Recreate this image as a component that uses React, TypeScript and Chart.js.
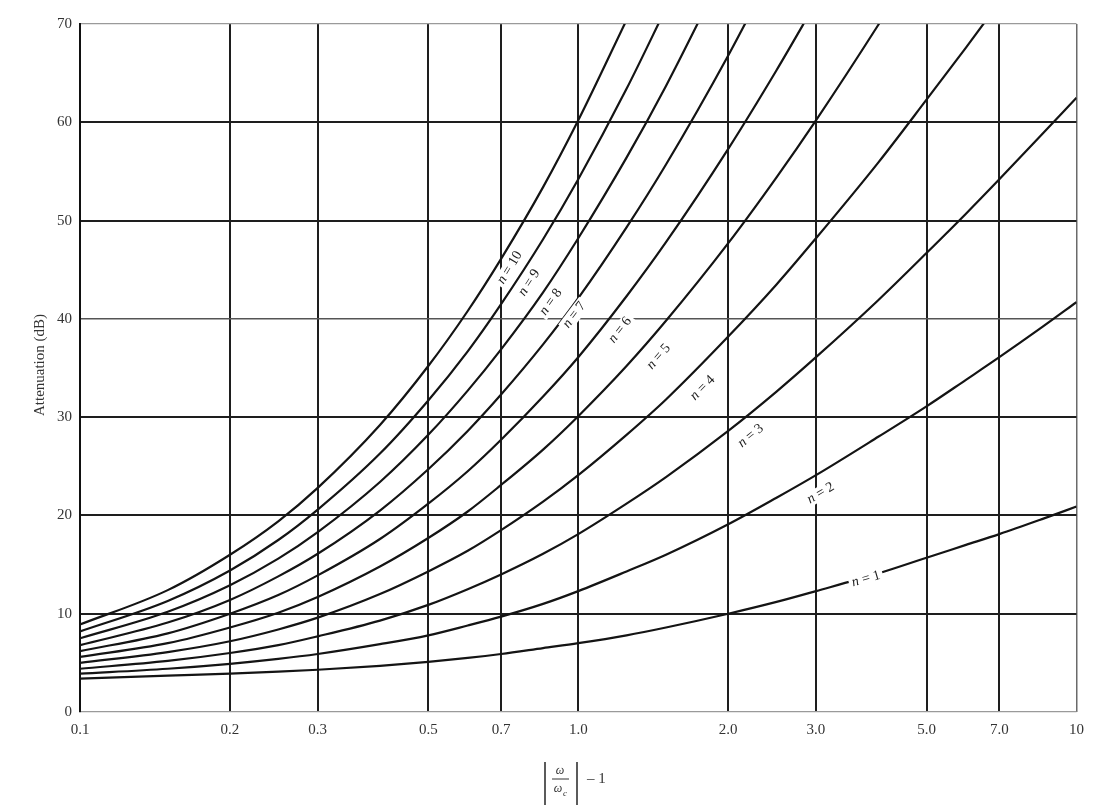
import React, { useEffect, useRef } from 'react';
import { Chart, registerables } from 'chart.js';

Chart.register(...registerables);

// |w/wc| - 1 sample positions
const xValues = [0.1, 0.15, 0.2, 0.25, 0.3, 0.4, 0.5, 0.6, 0.7, 0.85, 1.0, 1.25, 1.5, 2.0, 2.5, 3.0, 4.0, 5.0, 6.0, 7.0, 8.5, 10];

// Attenuation (dB) for each order n
const n1 = [3.4, 3.7, 3.9, 4.1, 4.3, 4.7, 5.1, 5.5, 5.9, 6.5, 7.0, 7.8, 8.6, 10.0, 11.2, 12.3, 14.1, 15.7, 17.0, 18.1, 19.6, 20.9];
const n2 = [3.9, 4.4, 4.9, 5.4, 5.9, 6.9, 7.8, 8.8, 9.7, 11.0, 12.3, 14.3, 16.0, 19.1, 21.8, 24.1, 28.0, 31.1, 33.8, 36.1, 39.1, 41.7];
const n3 = [4.4, 5.2, 6.0, 6.8, 7.7, 9.3, 10.9, 12.5, 14.0, 16.1, 18.1, 21.2, 23.9, 28.6, 32.6, 36.1, 41.9, 46.7, 50.7, 54.2, 58.7, 62.5];
const n4 = [5.0, 6.1, 7.2, 8.4, 9.6, 12.0, 14.3, 16.4, 18.5, 21.4, 24.1, 28.2, 31.8, 38.2, 43.5, 48.2, 55.9, 62.3, 67.6, 72.2];
const n5 = [5.6, 7.0, 8.6, 10.1, 11.7, 14.8, 17.7, 20.4, 23.1, 26.7, 30.1, 35.2, 39.8, 47.7, 54.4, 60.2, 69.9, 77.8];
const n6 = [6.2, 8.0, 10.0, 11.9, 13.9, 17.6, 21.2, 24.5, 27.7, 32.1, 36.1, 42.3, 47.8, 57.3, 65.3, 72.2];
const n7 = [6.8, 9.1, 11.4, 13.8, 16.1, 20.5, 24.7, 28.6, 32.3, 37.4, 42.1, 49.3, 55.7, 66.8, 76.2];
const n8 = [7.5, 10.2, 12.9, 15.6, 18.3, 23.4, 28.2, 32.7, 36.9, 42.7, 48.2, 56.4, 63.7, 76.3];
const n9 = [8.2, 11.3, 14.4, 17.5, 20.6, 26.3, 31.7, 36.7, 41.5, 48.1, 54.2, 63.4, 71.6];
const n10 = [8.9, 12.4, 16.0, 19.4, 22.8, 29.2, 35.2, 40.8, 46.1, 53.4, 60.2, 70.4];

const series = [n1, n2, n3, n4, n5, n6, n7, n8, n9, n10];
const seriesNames = ['1', '2', '3', '4', '5', '6', '7', '8', '9', '10'];
// x position (data units) along each curve where its "n = .." label sits
const labelAnchorX = [3.77, 2.94, 2.106, 1.675, 1.362, 1.145, 0.957, 0.842, 0.761, 0.695];

const xTickValues = [0.1, 0.2, 0.3, 0.5, 0.7, 1, 2, 3, 5, 7, 10];
const xTickLabels = ['0.1', '0.2', '0.3', '0.5', '0.7', '1.0', '2.0', '3.0', '5.0', '7.0', '10'];
const yTitle = 'Attenuation (dB)';

const SERIF = '"Liberation Serif", "DejaVu Serif", serif';
// perpendicular distance (px) of each label from its curve
const LABEL_OFFSETS = [2, 18, 18, 18, 18, 16, 7, 12, 12, 12];

function valueAt(vals: number[], xv: number): number {
  for (let k = 0; k < vals.length - 1; k++) {
    const a = xValues[k], b = xValues[k + 1];
    if (xv >= a && xv <= b) {
      const t = (Math.log(xv) - Math.log(a)) / (Math.log(b) - Math.log(a));
      return vals[k] + t * (vals[k + 1] - vals[k]);
    }
  }
  return vals[vals.length - 1];
}

const curveLabelPlugin = {
  id: 'curveLabels',
  afterDatasetsDraw(chart: any) {
    const ctx = chart.ctx as CanvasRenderingContext2D;
    const xs = chart.scales.x;
    const ys = chart.scales.y;
    series.forEach((vals, i) => {
      const off = LABEL_OFFSETS[i];
      const ax = labelAnchorX[i];
      const px = xs.getPixelForValue(ax);
      const py = ys.getPixelForValue(valueAt(vals, ax));
      const p0x = xs.getPixelForValue(ax * 0.95);
      const p0y = ys.getPixelForValue(valueAt(vals, ax * 0.95));
      const p1x = xs.getPixelForValue(ax * 1.05);
      const p1y = ys.getPixelForValue(valueAt(vals, ax * 1.05));
      const ang = Math.atan2(p1y - p0y, p1x - p0x);
      ctx.save();
      ctx.translate(px, py);
      ctx.rotate(ang);
      const fItal = 'italic 14px ' + SERIF;
      const fNorm = '14px ' + SERIF;
      ctx.font = fItal;
      const wN = ctx.measureText('n').width;
      ctx.font = fNorm;
      const rest = ' = ' + seriesNames[i];
      const wR = ctx.measureText(rest).width;
      const w = wN + wR;
      ctx.fillStyle = '#ffffff';
      ctx.fillRect(-w / 2 - 3, off - 7, w + 6, 14);
      ctx.fillStyle = '#222';
      ctx.textBaseline = 'middle';
      ctx.textAlign = 'left';
      ctx.font = fItal;
      ctx.fillText('n', -w / 2, off);
      ctx.font = fNorm;
      ctx.fillText(rest, -w / 2 + wN, off);
      ctx.restore();
    });
  },
};

const titlePlugin = {
  id: 'axisTitles',
  afterDraw(chart: any) {
    const ctx = chart.ctx as CanvasRenderingContext2D;
    ctx.save();
    ctx.fillStyle = '#333';
    ctx.strokeStyle = '#333';
    // y title
    ctx.translate(40, 365);
    ctx.rotate(-Math.PI / 2);
    ctx.font = '15px ' + SERIF;
    ctx.textAlign = 'center';
    ctx.textBaseline = 'middle';
    ctx.fillText(yTitle, 0, 0);
    ctx.restore();

    // x title: |w / wc| - 1
    ctx.save();
    ctx.fillStyle = '#333';
    ctx.strokeStyle = '#333';
    ctx.lineWidth = 1.6;
    const lx = 545;
    ctx.beginPath();
    ctx.moveTo(lx, 762);
    ctx.lineTo(lx, 805);
    ctx.moveTo(lx + 32, 762);
    ctx.lineTo(lx + 32, 805);
    ctx.stroke();
    ctx.font = 'italic 12px ' + SERIF;
    ctx.textAlign = 'center';
    ctx.textBaseline = 'middle';
    ctx.fillText('ω', lx + 15, 771);
    ctx.lineWidth = 1;
    ctx.beginPath();
    ctx.moveTo(lx + 7, 779);
    ctx.lineTo(lx + 24, 779);
    ctx.stroke();
    ctx.fillText('ω', lx + 13, 789);
    ctx.font = 'italic 9px ' + SERIF;
    ctx.fillText('c', lx + 20, 794);
    ctx.font = '15px ' + SERIF;
    ctx.textAlign = 'left';
    ctx.fillText('– 1', lx + 42, 779);
    ctx.restore();
  },
};

export default function App() {
  const canvasRef = useRef<HTMLCanvasElement | null>(null);

  useEffect(() => {
    if (!canvasRef.current) return;
    const datasets = series.map((vals, i) => ({
      label: 'n = ' + seriesNames[i],
      data: vals.map((y, k) => ({ x: xValues[k], y })),
      borderColor: '#141414',
      borderWidth: 2.2,
      pointRadius: 0,
      fill: false,
      cubicInterpolationMode: 'monotone' as const,
    }));

    const chart = new Chart(canvasRef.current, {
      type: 'line',
      data: { datasets },
      options: {
        animation: false,
        responsive: false,
        maintainAspectRatio: false,
        layout: { padding: { top: 24, right: 8, left: 0, bottom: 0 } },
        plugins: {
          legend: { display: false },
          tooltip: { enabled: false },
          title: { display: false },
        },
        scales: {
          x: {
            type: 'logarithmic',
            min: 0.1,
            max: 10,
            afterBuildTicks: (axis: any) => {
              axis.ticks = xTickValues.map((v) => ({ value: v }));
            },
            afterFit: (axis: any) => {
              axis.height = 93;
            },
            ticks: {
              autoSkip: false,
              maxRotation: 0,
              padding: 9,
              color: '#333',
              font: { family: SERIF, size: 15 },
              callback: (_v: any, index: number) => xTickLabels[index],
            },
            grid: {
              drawTicks: false,
              color: (c: any) => (c.tick && c.tick.value === 10 ? '#6a6a6a' : '#1e1e1e'),
              lineWidth: (c: any) => (c.tick && c.tick.value === 10 ? 1.5 : 2),
            },
            border: { display: false },
          },
          y: {
            type: 'linear',
            min: 0,
            max: 70,
            afterFit: (axis: any) => {
              axis.width = 80;
            },
            ticks: {
              stepSize: 10,
              padding: 8,
              color: '#333',
              font: { family: SERIF, size: 15 },
            },
            grid: {
              drawTicks: false,
              color: (c: any) =>
                c.tick && (c.tick.value === 0 || c.tick.value === 70)
                  ? '#9a9a9a'
                  : c.tick && c.tick.value === 40
                  ? '#555'
                  : '#1e1e1e',
              lineWidth: (c: any) =>
                c.tick && (c.tick.value === 0 || c.tick.value === 70)
                  ? 1.2
                  : c.tick && c.tick.value === 40
                  ? 1.5
                  : 2,
            },
            border: { display: true, color: '#111', width: 2 },
          },
        },
      },
      plugins: [curveLabelPlugin, titlePlugin],
    } as any);

    return () => {
      chart.destroy();
    };
  }, []);

  return (
    <div
      style={{
        position: 'fixed',
        left: 0,
        top: 0,
        width: 1093,
        height: 805,
        background: '#ffffff',
      }}
    >
      <canvas ref={canvasRef} width={1093} height={805} style={{ display: 'block' }} />
    </div>
  );
}
